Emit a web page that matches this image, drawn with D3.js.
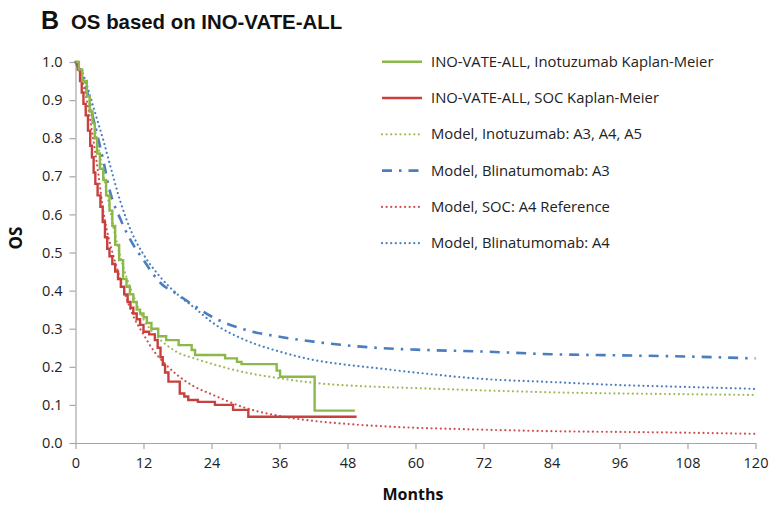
<!DOCTYPE html>
<html><head><meta charset="utf-8">
<script src="https://cdn.jsdelivr.net/npm/d3@7"></script>
<style>body{margin:0;background:#fff}</style>
</head><body><svg id="c" width="782" height="507"></svg>
<script>
// ---- data ----
const monthTicks = [0,12,24,36,48,60,72,84,96,108,120];
const osTicks = [0,0.1,0.2,0.3,0.4,0.5,0.6,0.7,0.8,0.9,1.0];

// Kaplan-Meier (month, survival)
const inoKM = [[0,1],[0.6,0.98],[1.2,0.95],[2.0,0.91],[2.5,0.87],[3.0,0.84],[3.4,0.80],[3.8,0.76],[4.3,0.72],[4.9,0.69],[5.4,0.65],[6.0,0.61],[6.5,0.57],[7.0,0.52],[7.7,0.48],[8.4,0.43],[9.0,0.41],[9.6,0.39],[10.2,0.37],[10.8,0.35],[11.4,0.34],[12.0,0.33],[12.6,0.315],[13.4,0.30],[14.6,0.28],[16.0,0.27],[18.2,0.257],[20.5,0.244],[21.1,0.231],[26.4,0.222],[28.5,0.213],[29.3,0.207],[35.5,0.19],[36.1,0.174],[42.2,0.085],[49.3,0.085]];
const socKM = [[0,1],[0.4,0.98],[0.8,0.95],[1.1,0.92],[1.4,0.89],[1.8,0.86],[2.2,0.82],[2.6,0.78],[2.9,0.75],[3.2,0.71],[3.5,0.68],[3.9,0.65],[4.4,0.62],[4.8,0.58],[5.2,0.54],[5.6,0.51],[6.0,0.49],[6.5,0.47],[7.0,0.45],[7.5,0.43],[8.0,0.41],[8.6,0.39],[9.2,0.37],[9.7,0.355],[10.2,0.34],[10.8,0.325],[11.4,0.31],[12.0,0.292],[13.0,0.285],[14.0,0.27],[14.5,0.25],[15.0,0.225],[15.4,0.205],[15.8,0.185],[16.4,0.161],[18.4,0.13],[19.2,0.122],[19.9,0.113],[21.6,0.108],[24.6,0.1],[27.8,0.087],[30.5,0.069],[49.6,0.069]];

// Model curves (month, survival)
const inoModel = [[0,1],[1,0.97],[2,0.93],[3,0.86],[4,0.78],[5,0.70],[6,0.62],[7,0.545],[8,0.485],[9,0.435],[10,0.395],[12,0.325],[14,0.285],[16,0.258],[18,0.238],[21,0.222],[24,0.208],[30,0.185],[36,0.17],[42,0.158],[48,0.151],[54,0.147],[60,0.144],[72,0.138],[84,0.133],[96,0.13],[108,0.128],[120,0.126]];
const blinaA3 = [[0,1],[1,0.97],[2,0.925],[3,0.86],[4,0.80],[5,0.735],[6,0.665],[8,0.585],[10,0.525],[12,0.48],[15,0.42],[18,0.39],[21,0.36],[24,0.332],[30,0.297],[36,0.279],[42,0.266],[48,0.256],[54,0.249],[60,0.245],[72,0.24],[84,0.233],[96,0.23],[108,0.227],[120,0.222]];
const socModel = [[0,1],[1,0.96],[2,0.90],[3,0.81],[4,0.71],[5,0.60],[6,0.53],[7,0.475],[8,0.425],[9,0.38],[10,0.34],[12,0.285],[14,0.238],[16,0.205],[18,0.178],[21,0.148],[24,0.128],[30,0.092],[36,0.071],[42,0.058],[48,0.05],[54,0.044],[60,0.04],[72,0.035],[84,0.031],[96,0.029],[108,0.027],[120,0.024]];
const blinaA4 = [[0,1],[1,0.98],[2,0.94],[3,0.89],[4,0.84],[5,0.79],[6,0.735],[8,0.63],[10,0.55],[12,0.495],[15,0.435],[18,0.39],[21,0.355],[24,0.318],[30,0.27],[36,0.24],[42,0.218],[48,0.205],[54,0.195],[60,0.185],[72,0.168],[84,0.16],[96,0.152],[108,0.147],[120,0.142]];

const seriesNames = ["INO-VATE-ALL, Inotuzumab Kaplan-Meier","INO-VATE-ALL, SOC Kaplan-Meier","Model, Inotuzumab: A3, A4, A5","Model, Blinatumomab: A3","Model, SOC: A4 Reference","Model, Blinatumomab: A4"];

// ---- styles ----
const GREEN = "#8cb84a", RED = "#c8403d", BLUE = "#4a7ebf";
const styles = [
  {data: inoKM, color: GREEN, width: 2.4, dash: null, step: true},
  {data: socKM, color: RED, width: 2.4, dash: null, step: true},
  {data: inoModel, color: "#9bbb59", width: 2.2, dash: "0.01 4.6", cap: "round"},
  {data: blinaA3, color: BLUE, width: 2.6, dash: "10 7 2.5 7", cap: "butt"},
  {data: socModel, color: "#d0504d", width: 2.2, dash: "0.01 4.6", cap: "round"},
  {data: blinaA4, color: BLUE, width: 2.2, dash: "0.01 4.6", cap: "round"}
];

const svg = d3.select("#c");
const x = d3.scaleLinear().domain([0,120]).range([75.5,755.5]);
const y = d3.scaleLinear().domain([0,1]).range([443,62]);

const AX = "#a6a6a6", TXT = "#222";
const tickFont = "'Open Sans', 'Liberation Sans', sans-serif";

// x axis
const gx = svg.append("g").attr("transform", `translate(0,${y(0)})`)
  .call(d3.axisBottom(x).tickValues(monthTicks).tickSize(6).tickSizeOuter(0).tickPadding(9).tickFormat(d3.format("d")));
// y axis
const gy = svg.append("g").attr("transform", `translate(${x(0)},0)`)
  .call(d3.axisLeft(y).tickValues(osTicks).tickSize(6).tickSizeOuter(0).tickPadding(7).tickFormat(d3.format(".1f")));
[gx, gy].forEach(g => {
  g.select(".domain").attr("stroke", AX).attr("stroke-width", 1.2);
  g.selectAll(".tick line").attr("stroke", AX).attr("stroke-width", 1.2);
  g.selectAll(".tick text").attr("fill", TXT).style("font-family", tickFont).style("font-size", "14.5px");
});

// lines
const lineStep = d3.line().x(d => x(d[0])).y(d => y(d[1])).curve(d3.curveStepAfter);
const lineSmooth = d3.line().x(d => x(d[0])).y(d => y(d[1])).curve(d3.curveMonotoneX);
const drawOrder = [4,2,5,3,1,0];
drawOrder.forEach(i => {
  const s = styles[i];
  svg.append("path").attr("d", (s.step ? lineStep : lineSmooth)(s.data))
    .attr("fill", "none").attr("stroke", s.color).attr("stroke-width", s.width)
    .attr("stroke-dasharray", s.dash).attr("stroke-linecap", s.cap || "butt")
    .attr("stroke-linejoin", "miter");
});

// legend
const lg = svg.append("g");
seriesNames.forEach((name, i) => {
  const s = styles[i];
  const yy = 61.7 + i * 36.3;
  lg.append("line").attr("x1", 382).attr("x2", 422).attr("y1", yy).attr("y2", yy)
    .attr("stroke", s.color).attr("stroke-width", s.width)
    .attr("stroke-dasharray", s.dash).attr("stroke-linecap", s.cap || "butt");
  lg.append("text").attr("x", 431).attr("y", yy).attr("dy", "0.35em")
    .attr("fill", TXT).style("font-family", tickFont).style("font-size", "14.8px").text(name);
});

// titles
svg.append("text").attr("x", 41).attr("y", 29).attr("fill", "#111")
  .style("font-family", "'Liberation Sans', Arial, sans-serif").style("font-weight", "bold").style("font-size", "25px").text("B");
svg.append("text").attr("x", 71).attr("y", 29).attr("fill", "#111")
  .style("font-family", "'Liberation Sans', Arial, sans-serif").style("font-weight", "bold").style("font-size", "20.4px").text("OS based on INO-VATE-ALL");
svg.append("text").attr("transform", `translate(22,${238}) rotate(-90)`).attr("text-anchor", "middle")
  .attr("fill", "#111").style("font-family", tickFont).style("font-weight", "bold").style("font-size", "17px").text("OS");
svg.append("text").attr("x", 413).attr("y", 500).attr("text-anchor", "middle")
  .attr("fill", "#111").style("font-family", tickFont).style("font-weight", "bold").style("font-size", "16px").text("Months");
</script></body></html>
